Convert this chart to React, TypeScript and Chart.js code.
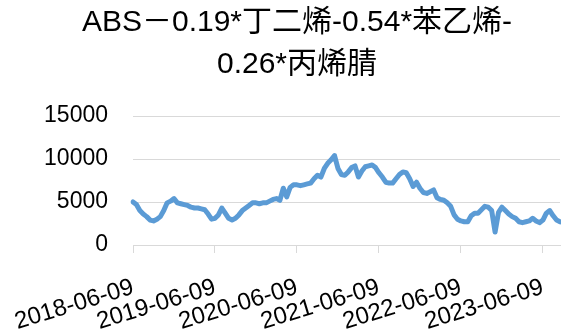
import React, { useEffect, useRef } from "react";
import { Chart, registerables } from "chart.js";

Chart.register(...registerables);

const titleLines = ["ABS－0.19*丁二烯-0.54*苯乙烯-", "0.26*丙烯腈"];

// semi-monthly samples (9th and 24th of each month) from 2018-06-09
const startYear = 2018;
const startMonth = 6;

const spreadValues = [
  5000, 4700, 4000, 3600, 3300, 2900, 2800, 3000, 3300, 4000,
  4900, 5100, 5400, 4900, 4800, 4700, 4600, 4400, 4300, 4300,
  4200, 4100, 3600, 3000, 3100, 3500, 4300, 3700, 3100, 2900,
  3100, 3500, 4000, 4300, 4600, 4900, 4900, 4800, 4900, 4900,
  5100, 5300, 5400, 5200, 6600, 5600, 6700, 7000, 7000, 6900,
  7000, 7100, 7200, 7700, 8100, 7900, 8900, 9500, 9900, 10400,
  8900, 8200, 8100, 8500, 9000, 9200, 7900, 8600, 9100, 9200,
  9300, 9000, 8400, 7900, 7300, 7200, 7200, 7700, 8200, 8500,
  8400, 7700, 6800, 7300, 6600, 6100, 6000, 6200, 6400, 5500,
  5300, 5200, 4900, 4500, 3500, 3000, 2800, 2700, 2700, 3400,
  3700, 3700, 4100, 4500, 4400, 4000, 1500, 3800, 4400, 4000,
  3600, 3300, 3100, 2700, 2600, 2700, 2800, 3100, 2800, 2600,
  2900, 3700, 4000, 3400, 2900, 2700,
];

const yTicks = [0, 5000, 10000, 15000];

function pad(n: number) {
  return n < 10 ? "0" + n : String(n);
}

function makeLabels(count: number): string[] {
  const out: string[] = [];
  let y = startYear;
  let m = startMonth;
  for (let i = 0; i < count; i++) {
    const day = i % 2 === 0 ? "09" : "24";
    out.push(`${y}-${pad(m)}-${day}`);
    if (i % 2 === 1) {
      m++;
      if (m > 12) {
        m = 1;
        y++;
      }
    }
  }
  return out;
}

const categories = makeLabels(spreadValues.length);

export default function App() {
  const ref = useRef<HTMLCanvasElement | null>(null);

  useEffect(() => {
    document.body.style.margin = "0";
    if (!ref.current) return;
    const chart = new Chart(ref.current, {
      type: "line",
      data: {
        labels: categories,
        datasets: [
          {
            data: spreadValues,
            borderColor: "#5B9BD5",
            borderWidth: 5,
            pointRadius: 0,
            tension: 0,
            fill: false,
            borderJoinStyle: "round",
            borderCapStyle: "round",
          },
        ],
      },
      options: {
        responsive: false,
        animation: false,
        layout: { padding: { left: 34, right: 1, top: 0, bottom: 0 } },
        plugins: {
          legend: { display: false },
          tooltip: { enabled: false },
          title: {
            display: true,
            text: titleLines,
            color: "#000",
            font: {
              family: "'Liberation Sans', 'Noto Sans CJK SC', sans-serif",
              size: 30,
              weight: "normal",
              lineHeight: 1.4,
            },
            padding: { top: 2, bottom: 30 },
          },
        },
        scales: {
          x: {
            type: "category",
            offset: false,
            afterFit: (s: any) => {
              s.height = 84;
              s.paddingLeft = 0;
              s.paddingRight = 0;
            },
            grid: {
              drawOnChartArea: false,
              drawTicks: true,
              tickLength: 8,
              color: "#D9D9D9",
              lineWidth: 1,
            },
            border: { display: true, color: "#D9D9D9", width: 1 },
            ticks: {
              autoSkip: false,
              minRotation: 17,
              maxRotation: 17,
              padding: 20,
              color: "#000",
              font: { family: "'Liberation Sans', sans-serif", size: 24 },
              callback: function (this: any, value: any) {
                const l = this.getLabelForValue(value) as string;
                return l.endsWith("-06-09") ? l : null;
              },
            },
          },
          y: {
            min: yTicks[0],
            max: yTicks[yTicks.length - 1],
            afterFit: (s: any) => {
              s.width = 99;
            },
            afterBuildTicks: (s: any) => {
              s.ticks = yTicks.map((v) => ({ value: v }));
            },
            grid: {
              drawTicks: false,
              color: "#D9D9D9",
              lineWidth: 1,
            },
            border: { display: false },
            ticks: {
              padding: 25,
              color: "#000",
              font: { family: "'Liberation Sans', sans-serif", size: 23 },
              callback: (v: any) => String(v),
            },
          },
        },
      },
    });
    return () => chart.destroy();
  }, []);

  return (
    <div style={{ width: 561, height: 329 }}>
      <canvas ref={ref} width={561} height={329} />
    </div>
  );
}
